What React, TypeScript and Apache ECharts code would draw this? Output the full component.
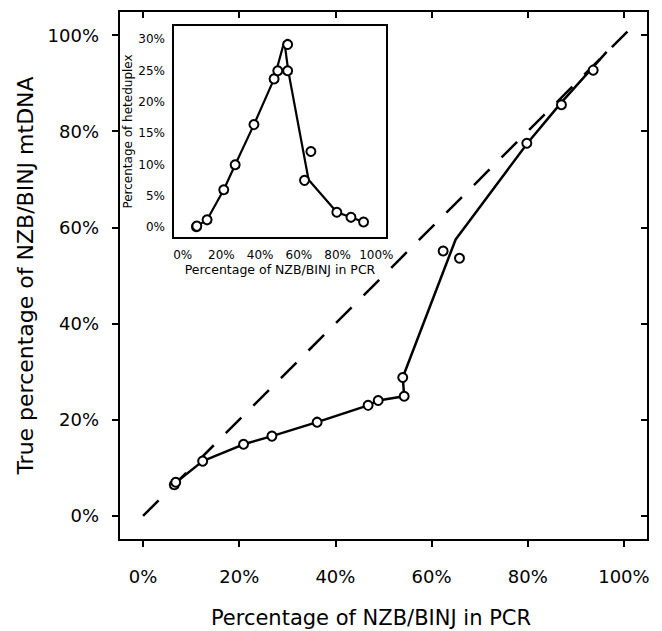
import React, { useEffect, useRef } from "react";
import * as echarts from "echarts";

// Main panel: observed points (x = % NZB/BINJ in PCR, y = true % NZB/BINJ mtDNA)
const mainPctPCR = [6.5, 6.8, 12.4, 20.9, 26.8, 36.2, 46.8, 48.9, 54.3, 54.0, 62.4, 65.8, 79.8, 87.0, 93.6];
const mainTruePct = [6.5, 7.0, 11.4, 14.9, 16.6, 19.5, 23.0, 24.0, 24.9, 28.8, 55.1, 53.6, 77.5, 85.5, 92.7];
// Main panel: calibration curve vertices
const mainCurveX = [6.5, 12.4, 20.9, 26.8, 36.2, 46.8, 48.9, 54.3, 54.0, 65.0, 80.0, 87.0, 96.4];
const mainCurveY = [6.7, 11.4, 14.9, 16.6, 19.5, 23.0, 24.0, 24.9, 28.8, 57.5, 77.6, 86.0, 96.5];
// Identity (dashed) line
const identityX = [0, 101];
const identityY = [0, 101];

// Inset: heteroduplex percentage
const insetPctPCR = [7.1, 7.3, 12.6, 21.2, 27.1, 36.8, 47.2, 49.1, 54.2, 54.2, 66.2, 62.9, 79.6, 86.9, 93.4];
const insetHetero = [0.1, 0.2, 1.2, 6.0, 10.0, 16.4, 23.7, 25.0, 29.2, 25.0, 12.1, 7.5, 2.4, 1.6, 0.85];
const insetCurveX = [7.1, 12.6, 21.2, 27.1, 36.8, 47.2, 52.5, 54.5, 65.0, 79.6, 86.9, 93.4];
const insetCurveY = [0.2, 1.2, 6.0, 10.0, 16.4, 23.7, 29.7, 25.0, 7.6, 2.4, 1.6, 0.85];

const mainTicks = [0, 20, 40, 60, 80, 100];
const insetXTicks = [0, 20, 40, 60, 80, 100];
const insetYTicks = [0, 5, 10, 15, 20, 25, 30];

const FONT = "'DejaVu Sans', sans-serif";

const zip = (a: number[], b: number[]) => a.map((v, i) => [v, b[i]]);

export default function App() {
  const ref = useRef<HTMLDivElement>(null);
  useEffect(() => {
    if (!ref.current) return;
    const chart = echarts.init(ref.current, null, { renderer: "svg" });
    const black = "#000";
    const pctFmt = (v: number) => `${v}%`;
    const mkAxis = (grid: number, pos: string, min: number, max: number, ticks: number[], inside: boolean, len: number, labels: boolean, fontSize: number, margin: number, name?: string, nameGap?: number, nameSize?: number) => ({
      type: "value",
      gridIndex: grid,
      position: pos,
      min,
      max,
      axisLine: { show: false, onZero: false },
      splitLine: { show: false },
      axisTick: { show: true, inside, length: len, customValues: ticks, lineStyle: { color: black, width: 2 } },
      axisLabel: { show: labels, customValues: ticks, formatter: pctFmt, color: black, fontSize, fontFamily: FONT, margin },
      name: name || "",
      nameLocation: "middle",
      nameGap: nameGap || 0,
      nameTextStyle: { color: black, fontSize: nameSize || 12, fontFamily: FONT },
    });

    chart.setOption({
      animation: false,
      backgroundColor: "#fff",
      grid: [
        { left: 119, top: 11, width: 529, height: 529, show: true, borderColor: black, borderWidth: 2, backgroundColor: "transparent" },
        { left: 173, top: 25, width: 214, height: 213, show: true, borderColor: black, borderWidth: 2, backgroundColor: "#fff", z: 5 },
      ],
      graphic: [
        {
          type: "text",
          x: 371,
          y: 618,
          style: {
            text: "Percentage of NZB/BINJ in PCR",
            fill: black,
            fontSize: 21,
            fontFamily: FONT,
            align: "center",
            verticalAlign: "middle",
          },
        },
      ],
      xAxis: [
        mkAxis(0, "bottom", -5, 105, mainTicks, false, 7, true, 18, 27),
        mkAxis(0, "top", -5, 105, mainTicks, true, 7, false, 18, 8),
        mkAxis(1, "bottom", -5, 105.5, insetXTicks, true, 4, true, 12, 11, "Percentage of NZB/BINJ in PCR", 25, 12.5),
        mkAxis(1, "top", -5, 105.5, insetXTicks, true, 4, false, 12, 8),
      ],
      yAxis: [
        mkAxis(0, "left", -5, 105, mainTicks, false, 7, true, 18, 20, "True percentage of NZB/BINJ mtDNA", 80, 22),
        mkAxis(0, "right", -5, 105, mainTicks, true, 7, false, 18, 8),
        mkAxis(1, "left", -1.7, 32.3, insetYTicks, true, 4, true, 12, 8, "Percentage of heteduplex", 24, 12),
        mkAxis(1, "right", -1.7, 32.3, insetYTicks, true, 4, false, 12, 8),
      ],
      series: [
        {
          type: "line",
          xAxisIndex: 0,
          yAxisIndex: 0,
          data: zip(identityX, identityY),
          symbol: "none",
          lineStyle: { color: black, width: 2.5, type: [22, 17] },
          z: 2,
        },
        {
          type: "line",
          xAxisIndex: 0,
          yAxisIndex: 0,
          data: zip(mainCurveX, mainCurveY),
          symbol: "none",
          lineStyle: { color: black, width: 2.5 },
          z: 3,
        },
        {
          type: "scatter",
          xAxisIndex: 0,
          yAxisIndex: 0,
          data: zip(mainPctPCR, mainTruePct),
          symbol: "circle",
          symbolSize: 9,
          itemStyle: { color: "#fff", borderColor: black, borderWidth: 2, opacity: 1 },
          z: 4,
        },
        {
          type: "line",
          xAxisIndex: 2,
          yAxisIndex: 2,
          data: zip(insetCurveX, insetCurveY),
          symbol: "none",
          lineStyle: { color: black, width: 2.2 },
          z: 6,
        },
        {
          type: "scatter",
          xAxisIndex: 2,
          yAxisIndex: 2,
          data: zip(insetPctPCR, insetHetero),
          symbol: "circle",
          symbolSize: 9,
          itemStyle: { color: "#fff", borderColor: black, borderWidth: 2, opacity: 1 },
          z: 7,
        },
      ],
    });
    return () => chart.dispose();
  }, []);
  return <div ref={ref} style={{ position: "fixed", left: 0, top: 0, width: 662, height: 631 }} />;
}
